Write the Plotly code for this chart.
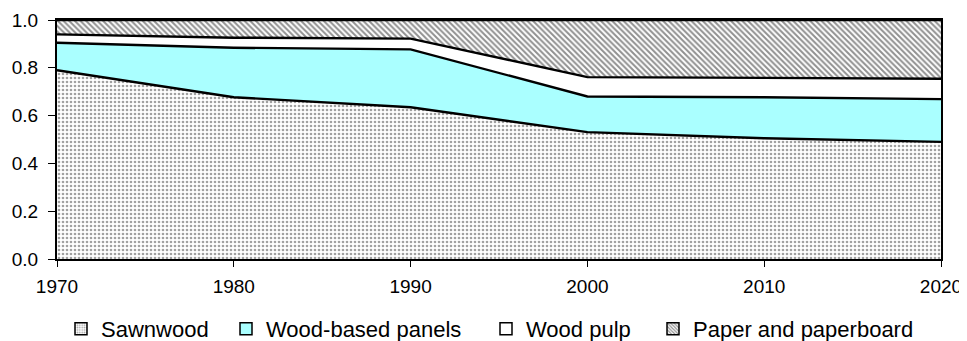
import plotly.graph_objects as go

years = [1970, 1980, 1990, 2000, 2010, 2020]
sawnwood = [0.790, 0.677, 0.635, 0.531, 0.505, 0.490]
wood_panels = [0.115, 0.207, 0.242, 0.149, 0.172, 0.179]
wood_pulp = [0.035, 0.042, 0.045, 0.081, 0.081, 0.085]
paper = [0.060, 0.074, 0.078, 0.239, 0.242, 0.246]
y_ticks = [0.0, 0.2, 0.4, 0.6, 0.8, 1.0]
names = ["Sawnwood", "Wood-based panels", "Wood pulp", "Paper and paperboard"]

OFF = 8  # default page body margin in the browser
W, H = 967 - OFF, 341 - OFF
L, R, T, B = 57 - OFF, 26, 20 - OFF, 82

dots = dict(shape=".", fgcolor="#444444", bgcolor="white", size=4, solidity=0.35)
hatch = dict(shape="\\", fgcolor="#222222", bgcolor="white", size=4, solidity=0.5)
styles = [
    dict(fill="white", pattern=dots),
    dict(fill="#aaffff", pattern=None),
    dict(fill="white", pattern=None),
    dict(fill="white", pattern=hatch),
]

fig = go.Figure()
for name, vals, st in zip(names, [sawnwood, wood_panels, wood_pulp, paper], styles):
    kw = dict(x=years, y=vals, name=name, mode="lines", stackgroup="one",
              line=dict(color="black", width=2.4), fillcolor=st["fill"],
              showlegend=False, hoverinfo="x+y+name")
    if st["pattern"]:
        kw["fillpattern"] = st["pattern"]
    fig.add_trace(go.Scatter(**kw))

# legend entries (square swatches), one legend each for exact placement
legend_px = [61, 226, 486, 653]  # left page pixel of each legend entry
legend_ids = ["legend", "legend2", "legend3", "legend4"]
for name, st, lid in zip(names, styles, legend_ids):
    marker = dict(color=st["fill"], line=dict(color="black", width=1.5))
    if st["pattern"]:
        p = st["pattern"]
        marker["pattern"] = dict(shape=p["shape"], fgcolor=p["fgcolor"],
                                 bgcolor=p["bgcolor"], size=3, solidity=p["solidity"])
    fig.add_trace(go.Bar(x=[None], y=[None], name=name, marker=marker,
                         showlegend=True, legend=lid))

leg_common = dict(orientation="h", yanchor="middle", xanchor="left",
                  xref="container", yref="container",
                  font=dict(size=22, family="Liberation Sans, Arial", color="black"),
                  bgcolor="rgba(0,0,0,0)", borderwidth=0, itemwidth=30)
legend_y = 1 - (329 - OFF) / H
layout_leg = {}
for px, lid in zip(legend_px, legend_ids):
    d = dict(leg_common)
    d["x"] = (px - OFF) / W
    d["y"] = legend_y
    layout_leg[lid] = d

fig.update_layout(
    width=W, height=H,
    margin=dict(l=L, r=R, t=T, b=B, autoexpand=False),
    paper_bgcolor="white", plot_bgcolor="white",
    font=dict(family="Liberation Sans, Arial", size=19, color="black"),
    barmode="overlay",
    **layout_leg,
)
fig.update_xaxes(range=[1970, 2020], tickvals=years, ticks="outside", ticklen=6,
                 showgrid=False, zeroline=False, showline=True, linecolor="black",
                 linewidth=2, mirror=True, tickcolor="black", tickwidth=1.2,
                 tickfont=dict(size=19), ticklabelstandoff=3, automargin=False)
fig.update_yaxes(range=[0, 1], tickvals=y_ticks, tickformat=".1f", ticks="outside",
                 ticklen=7, showgrid=False, zeroline=False, showline=True,
                 linecolor="black", linewidth=2, mirror=True, tickcolor="black",
                 tickwidth=1.2, tickfont=dict(size=19), ticklabelstandoff=6,
                 automargin=False)
fig.write_html("out.html")
